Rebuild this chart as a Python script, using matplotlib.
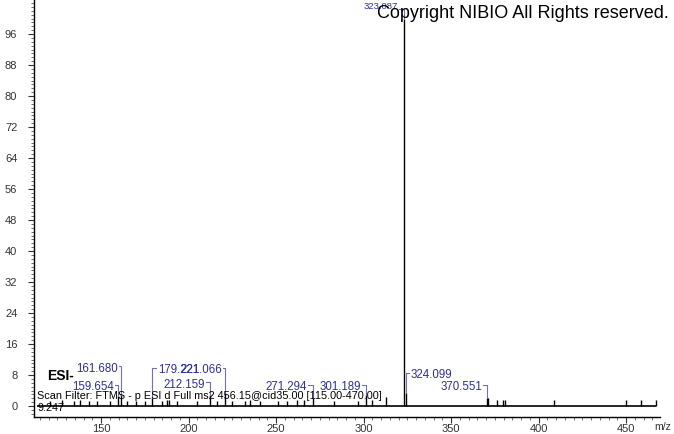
import matplotlib
matplotlib.use("Agg")
import matplotlib.pyplot as plt
from matplotlib.ticker import MultipleLocator

plt.rcParams['font.family'] = ['Liberation Sans', 'DejaVu Sans']

# ---- data ----
peak_mz = [120.9, 127.5, 134.7, 138.0, 143.0, 147.5, 155.0, 159.654, 161.680, 164.7,
           170.0, 175.0, 179.221, 185.0, 187.5, 189.0, 193.5, 205.0, 212.159, 216.0,
           221.066, 225.0, 232.0, 235.0, 241.0, 251.0, 256.0, 262.0, 266.0, 271.294,
           283.0, 297.0, 301.189, 305.0, 313.0, 323.087, 324.099, 370.551, 371.2,
           376.5, 379.5, 380.8, 409.0, 450.0, 458.5, 467.0]
peak_int = [1.2, 1.5, 1.3, 1.6, 1.2, 1.4, 1.3, 2.5, 2.8, 1.4,
            1.3, 1.2, 2.0, 1.3, 1.6, 1.6, 1.3, 1.2, 2.8, 1.4,
            3.3, 1.3, 1.2, 1.5, 1.4, 1.2, 1.3, 1.5, 1.5, 2.0,
            1.3, 1.3, 2.8, 1.6, 2.3, 100.0, 3.4, 2.0, 2.0,
            1.6, 1.5, 1.6, 1.6, 1.5, 1.5, 1.5]

label_mz = [161.680, 159.654, 179.221, 221.066, 212.159, 271.294, 301.189, 324.099, 370.551]
label_text = ["161.680", "159.654", "179.221", "221.066", "212.159", "271.294", "301.189",
              "324.099", "370.551"]
# label text anchor position (data coords) and bracket side
label_tx = [159.6, 157.4, 182.6, 219.1, 209.5, 267.7, 298.6, 327.1, 367.7]
label_ty = [9.6, 4.9, 9.3, 9.3, 5.5, 4.9, 4.9, 8.0, 4.9]
label_side = ["r", "r", "l", "r", "r", "r", "r", "l", "r"]

yticks = list(range(0, 97, 8))
xticks = [150, 200, 250, 300, 350, 400, 450]

W, H = 674, 434
fig = plt.figure(figsize=(W / 100, H / 100), dpi=100)
ax = fig.add_axes([34 / W, (H - 417) / H, (660 - 34) / W, 417 / H])
ax.set_xlim(111.7, 469.4)
ax.set_ylim(-2.84, 104.8)

blue = '#2e2e9c'
brk = '#7070b8'

ax.vlines(peak_mz, 0, peak_int, color='black', lw=1.0)
ax.hlines(0, 113.5, 467.0, color='black', lw=1.2)

inten = dict(zip(peak_mz, peak_int))
for mz, txt, tx, ty, side in zip(label_mz, label_text, label_tx, label_ty, label_side):
    top = inten[mz]
    if side == "r":
        ax.text(tx, ty, txt, color=blue, fontsize=8.3, ha='right', va='center')
        ax.plot([tx + 0.6, mz, mz], [ty + 0.6, ty + 0.6, top], color=brk, lw=0.8)
    else:
        ax.text(tx, ty, txt, color=blue, fontsize=8.3, ha='left', va='center')
        ax.plot([tx - 1.0, mz, mz], [ty + 0.6, ty + 0.6, top], color=brk, lw=0.8)

# top label for base peak
bp = 323.087
ax.text(bp - 3.5, 103.0, "323.087", color=blue, fontsize=6.8, ha='right', va='center')
ax.plot([bp - 3.0, bp, bp], [102.6, 102.6, 100.0], color=brk, lw=0.8)

ax.text(377 / W, 1 - 14 / H, "Copyright NIBIO All Rights reserved.", transform=fig.transFigure,
        fontsize=13.0, ha='left', va='center', color='black')

ax.text(47 / W, 1 - 376 / H, "ESI-", transform=fig.transFigure, fontsize=10,
        fontweight='bold', ha='left', va='center')
ax.text(37 / W, 1 - 396 / H,
        "Scan Filter: FTMS - p ESI d Full ms2 456.15@cid35.00 [115.00-470.00]",
        transform=fig.transFigure, fontsize=7.85, ha='left', va='center', color='black')
ax.text(37 / W, 1 - 408 / H, "9.247", transform=fig.transFigure, fontsize=7.85,
        ha='left', va='center', color='black')
ax.text(663 / W, 1 - 427 / H, "m/z", transform=fig.transFigure, fontsize=7.6,
        ha='center', va='center', color='#333333')

for s in ['top', 'right']:
    ax.spines[s].set_visible(False)
ax.spines['left'].set_linewidth(1.0)
ax.spines['bottom'].set_linewidth(1.0)

ax.set_yticks(yticks)
ax.set_xticks(xticks)
ax.yaxis.set_minor_locator(MultipleLocator(1))
ax.xaxis.set_minor_locator(MultipleLocator(5))
ax.tick_params(axis='both', which='major', length=4, width=0.8, labelsize=8,
               labelcolor='#333333', color='#333333')
ax.tick_params(axis='both', which='minor', length=2.5, width=0.6, color='#555555')
ax.tick_params(axis='y', pad=8)
ax.tick_params(axis='x', pad=1)

fig.savefig("out.png", dpi=100)
